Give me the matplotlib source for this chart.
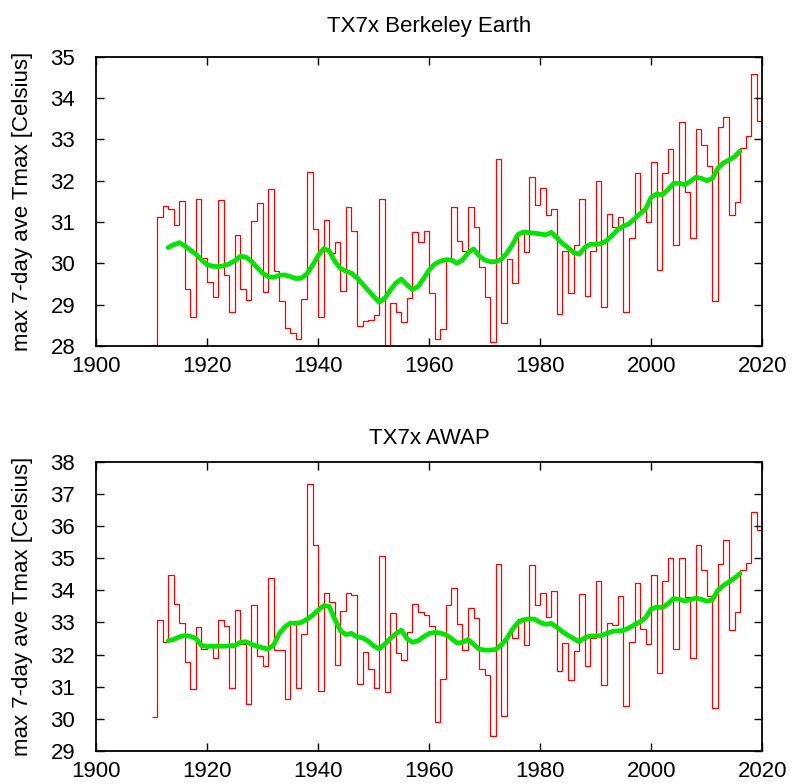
import numpy as np
import matplotlib
matplotlib.use('Agg')
import matplotlib.pyplot as plt

plt.rcParams['font.family'] = ['Liberation Sans', 'DejaVu Sans']
plt.rcParams['font.size'] = 16

years = np.arange(1910, 2020)
smooth_years = np.arange(1913, 2017)

# TX7x, Berkeley Earth (1952 falls below the 28 floor)
berkeley_tx7x = [
    28.03, 31.13, 31.39, 31.32, 30.93, 31.51, 29.38, 28.70, 31.55, 30.14,
    29.54, 29.18, 31.53, 29.71, 28.83, 30.69, 29.38, 29.12, 31.02, 31.47,
    29.30, 31.79, 29.82, 29.10, 28.43, 28.32, 28.17, 29.14, 32.20, 30.84,
    28.71, 31.06, 30.26, 30.52, 29.32, 31.37, 30.78, 28.49, 28.61, 28.63,
    28.75, 31.55, 27.8, 29.03, 28.82, 28.57, 29.15, 30.76, 30.52, 30.78,
    29.27, 28.17, 28.41, 30.08, 31.37, 30.53, 30.30, 31.37, 30.88, 29.90,
    29.18, 28.09, 32.53, 28.55, 30.10, 29.52, 30.73, 30.28, 32.10, 31.41,
    31.83, 31.16, 31.32, 28.78, 30.31, 29.28, 30.44, 31.55, 29.22, 30.29,
    32.00, 28.95, 31.20, 30.89, 31.12, 28.83, 30.62, 32.19, 31.28, 31.01,
    32.45, 29.84, 32.19, 32.77, 30.44, 33.41, 31.73, 30.61, 33.25, 32.86,
    32.35, 29.10, 33.29, 33.54, 31.16, 31.48, 32.79, 33.09, 34.57, 33.45,
]
berkeley_smooth = [
    30.38, 30.45, 30.50, 30.42, 30.32, 30.22, 30.08, 29.97, 29.93, 29.92,
    29.94, 29.99, 30.06, 30.17, 30.15, 30.05, 29.90, 29.76, 29.68, 29.66,
    29.71, 29.72, 29.68, 29.63, 29.64, 29.75, 29.95, 30.18, 30.36, 30.30,
    30.05, 29.88, 29.81, 29.76, 29.65, 29.50, 29.35, 29.20, 29.06, 29.15,
    29.35, 29.52, 29.62, 29.48, 29.36, 29.44, 29.63, 29.84, 29.98, 30.05,
    30.09, 30.08, 30.00, 30.08, 30.25, 30.35, 30.18, 30.08, 30.04, 30.04,
    30.10, 30.25, 30.45, 30.70, 30.76, 30.74, 30.73, 30.71, 30.69, 30.75,
    30.62, 30.48, 30.38, 30.26, 30.22, 30.38, 30.46, 30.46, 30.48, 30.55,
    30.68, 30.82, 30.90, 30.96, 31.08, 31.20, 31.32, 31.60, 31.68, 31.66,
    31.78, 31.93, 31.94, 31.90, 31.98, 32.08, 32.06, 32.00, 32.05, 32.30,
    32.43, 32.50, 32.58, 32.72,
]

# TX7x, AWAP
awap_tx7x = [
    30.07, 33.07, 32.40, 34.46, 33.57, 32.97, 31.78, 30.94, 32.86, 32.17,
    32.27, 31.88, 33.09, 32.88, 30.96, 33.39, 32.33, 30.46, 33.53, 31.95,
    31.64, 34.39, 32.14, 32.14, 30.63, 33.02, 30.96, 32.63, 37.30, 35.42,
    30.88, 33.92, 33.64, 31.67, 33.34, 33.90, 33.84, 31.08, 32.09, 31.54,
    30.97, 35.06, 30.84, 33.30, 32.04, 31.83, 32.70, 33.58, 33.33, 33.24,
    32.89, 29.89, 31.25, 33.54, 34.08, 32.95, 32.14, 33.44, 33.15, 31.54,
    31.37, 29.47, 34.81, 30.10, 32.66, 32.50, 33.11, 32.29, 34.80, 33.53,
    33.90, 33.16, 33.99, 31.49, 32.37, 31.21, 32.11, 33.87, 31.65, 32.52,
    34.29, 31.05, 32.97, 32.92, 33.81, 30.41, 32.40, 34.23, 32.81, 32.33,
    34.49, 31.44, 34.29, 35.01, 32.16, 35.01, 33.78, 31.90, 35.42, 34.64,
    33.81, 30.33, 34.83, 35.55, 32.76, 33.33, 34.62, 34.85, 36.44, 35.86,
]
awap_smooth = [
    32.43, 32.47, 32.55, 32.59, 32.57, 32.50, 32.28, 32.25, 32.26, 32.26,
    32.26, 32.27, 32.28, 32.38, 32.40, 32.32, 32.26, 32.21, 32.17, 32.30,
    32.65, 32.86, 32.98, 32.97, 33.00, 33.10, 33.22, 33.38, 33.52, 33.50,
    33.10, 32.75, 32.62, 32.66, 32.55, 32.52, 32.42, 32.27, 32.18, 32.32,
    32.50, 32.65, 32.76, 32.50, 32.38, 32.43, 32.55, 32.66, 32.69, 32.67,
    32.62, 32.50, 32.36, 32.38, 32.47, 32.32, 32.17, 32.14, 32.14, 32.16,
    32.30, 32.50, 32.78, 33.00, 33.08, 33.11, 33.10, 33.00, 32.94, 32.97,
    32.85, 32.71, 32.60, 32.50, 32.40, 32.52, 32.58, 32.58, 32.59, 32.66,
    32.72, 32.74, 32.75, 32.83, 32.93, 33.02, 33.15, 33.42, 33.48, 33.46,
    33.58, 33.74, 33.72, 33.67, 33.70, 33.76, 33.72, 33.66, 33.70, 34.00,
    34.15, 34.26, 34.38, 34.52,
]

panels = [
    ('TX7x Berkeley Earth', berkeley_tx7x, berkeley_smooth, (28, 35), 0.5587, 18),
    ('TX7x AWAP', awap_tx7x, awap_smooth, (29, 38), 0.0421, 13),
]

fig = plt.figure(figsize=(7.92, 7.84), dpi=100)

for title, raw, smooth, ylim, bottom, tpad in panels:
    ax = fig.add_axes([0.1212, bottom, 0.8413, 0.369])
    edges = np.append(years, years[-1] + 1)
    ax.stairs(raw, edges, baseline=None, color='red', linewidth=0.9)
    ax.plot(smooth_years, smooth, color='#00e600', linewidth=3.4, solid_capstyle='round')

    ax.set_xlim(1900, 2020)
    ax.set_ylim(*ylim)
    ax.set_xticks(np.arange(1900, 2021, 20))
    ax.set_yticks(np.arange(ylim[0], ylim[1] + 1, 1))
    ax.tick_params(direction='in', length=6, width=1, top=True, right=True)
    ax.tick_params(axis='x', pad=7)
    ax.tick_params(axis='y', pad=15)
    for s in ax.spines.values():
        s.set_linewidth(1.3)

    ax.set_title(title, fontsize=16, pad=tpad)
    ax.set_ylabel('max 7-day ave Tmax [Celsius]', fontsize=16)
    ax.yaxis.set_label_coords(-0.095, 0.5)

fig.savefig('out.png', dpi=100)
